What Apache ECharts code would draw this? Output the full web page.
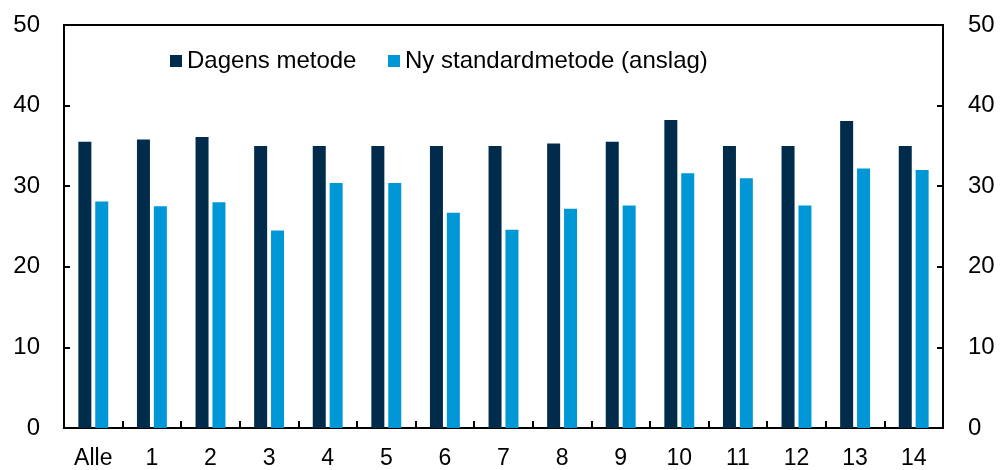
<!DOCTYPE html>
<html>
<head>
<meta charset="utf-8">
<script src="https://cdn.jsdelivr.net/npm/echarts@6/dist/echarts.min.js"></script>
<style>
  html, body { margin: 0; padding: 0; background: #fff; }
  #app { width: 1000px; height: 470px; }
</style>
</head>
<body>
<div id="app"></div>
<script>
var categories = ['Alle', '1', '2', '3', '4', '5', '6', '7', '8', '9', '10', '11', '12', '13', '14'];
var dagensMetode = [35.5, 35.8, 36.1, 35.0, 35.0, 35.0, 35.0, 35.0, 35.3, 35.5, 38.2, 35.0, 35.0, 38.1, 35.0];
var nyStandard = [28.1, 27.5, 28.0, 24.5, 30.4, 30.4, 26.7, 24.6, 27.2, 27.6, 31.6, 31.0, 27.6, 32.2, 32.0];
var seriesNames = ['Dagens metode', 'Ny standardmetode (anslag)'];

var font = 'Liberation Sans, Arial, sans-serif';

function valueAxis(pos) {
    return {
        type: 'value',
        position: pos,
        min: 0,
        max: 50,
        interval: 10,
        splitLine: { show: false },
        axisLine: { show: true, lineStyle: { color: '#000', width: 2 } },
        axisTick: { show: true, inside: true, length: 6, lineStyle: { color: '#000', width: 2 } },
        axisLabel: {
            color: '#000',
            fontFamily: font,
            fontSize: 24,
            margin: pos === 'left' ? 24 : 25,
            showMaxLabel: true
        }
    };
}

// one legend per item so each can be placed where the reference has it
function legendItem(name, left) {
    return {
        left: left,
        top: 44,
        icon: 'rect',
        itemWidth: 12,
        itemHeight: 12,
        textStyle: { fontFamily: font, fontSize: 24, color: '#000' },
        data: [name]
    };
}

var myChart = echarts.init(document.getElementById('app'));
myChart.setOption({
    animation: false,
    grid: {
        left: 64,
        right: 57,
        top: 25,
        bottom: 41,
        show: true,
        borderColor: '#000',
        borderWidth: 2
    },
    legend: [legendItem(seriesNames[0], 165), legendItem(seriesNames[1], 383)],
    xAxis: {
        type: 'category',
        data: categories,
        axisLine: { show: true, lineStyle: { color: '#000', width: 2 } },
        axisTick: { show: true, inside: true, length: 7, lineStyle: { color: '#000', width: 2 } },
        axisLabel: { color: '#000', fontFamily: font, fontSize: 23, margin: 19, interval: 0 }
    },
    yAxis: [valueAxis('left'), valueAxis('right')],
    series: [
        {
            name: seriesNames[0],
            type: 'bar',
            data: dagensMetode,
            barWidth: 13,
            barGap: '30%',
            itemStyle: { color: '#012B4B' }
        },
        {
            name: seriesNames[1],
            type: 'bar',
            data: nyStandard,
            barWidth: 13,
            itemStyle: { color: '#0097D6' }
        }
    ]
});
</script>
</body>
</html>
